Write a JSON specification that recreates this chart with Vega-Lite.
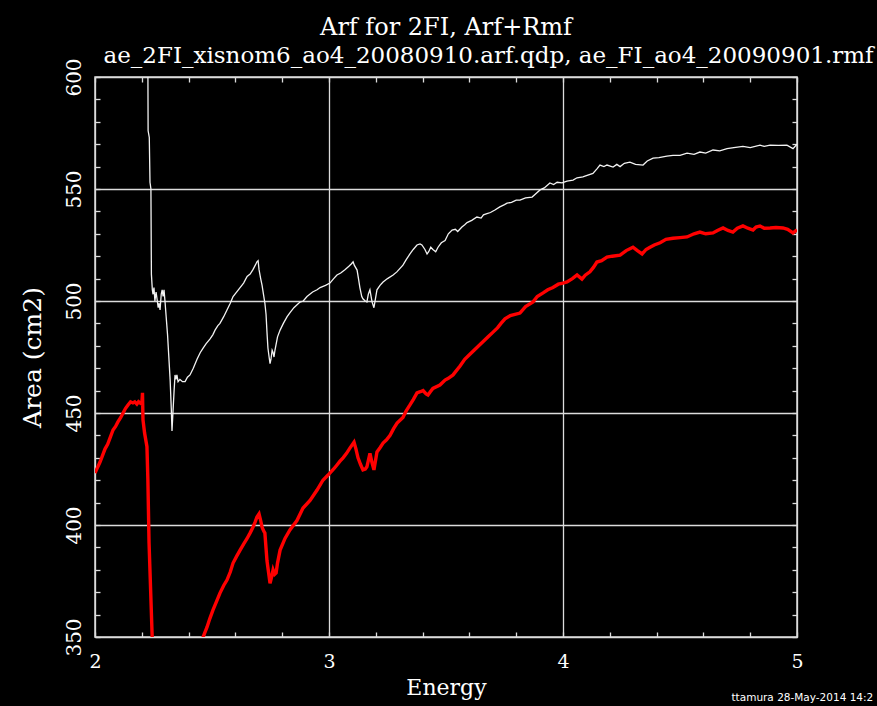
{
  "$schema": "https://vega.github.io/schema/vega-lite/v6.json",
  "width": 702,
  "height": 560,
  "autosize": {"type": "none"},
  "padding": {"left": 95, "top": 77, "right": 80, "bottom": 69},
  "background": "black",
  "config": {
    "view": {"stroke": "#dcdcdc", "strokeWidth": 1.5, "fill": "black"}
  },
  "title": {
    "text": "Arf for 2FI, Arf+Rmf",
    "color": "white",
    "font": "DejaVu Serif",
    "fontSize": 24,
    "fontWeight": "normal",
    "anchor": "middle",
    "offset": 4
  },
  "datasets": {
    "arf": [
      {"e": 2.0, "area": 640}, {"e": 2.1, "area": 650}, {"e": 2.2, "area": 660}, {"e": 2.224, "area": 662},
      {"e": 2.227, "area": 576}, {"e": 2.232, "area": 573}, {"e": 2.235, "area": 553}, {"e": 2.239, "area": 550},
      {"e": 2.241, "area": 512}, {"e": 2.245, "area": 505}, {"e": 2.248, "area": 503}, {"e": 2.252, "area": 506},
      {"e": 2.256, "area": 500}, {"e": 2.261, "area": 504}, {"e": 2.265, "area": 501}, {"e": 2.27, "area": 497},
      {"e": 2.274, "area": 499}, {"e": 2.278, "area": 496}, {"e": 2.283, "area": 503}, {"e": 2.287, "area": 505},
      {"e": 2.291, "area": 502}, {"e": 2.295, "area": 505}, {"e": 2.299, "area": 500}, {"e": 2.31, "area": 485},
      {"e": 2.321, "area": 465}, {"e": 2.326, "area": 452}, {"e": 2.329, "area": 442}, {"e": 2.333, "area": 450},
      {"e": 2.338, "area": 460}, {"e": 2.342, "area": 467}, {"e": 2.346, "area": 465}, {"e": 2.35, "area": 467},
      {"e": 2.355, "area": 464}, {"e": 2.363, "area": 465}, {"e": 2.374, "area": 464}, {"e": 2.385, "area": 464},
      {"e": 2.395, "area": 466}, {"e": 2.406, "area": 467}, {"e": 2.42, "area": 470}, {"e": 2.436, "area": 474},
      {"e": 2.45, "area": 477}, {"e": 2.462, "area": 479}, {"e": 2.475, "area": 481}, {"e": 2.491, "area": 483},
      {"e": 2.504, "area": 485}, {"e": 2.513, "area": 487}, {"e": 2.525, "area": 489}, {"e": 2.534, "area": 490},
      {"e": 2.55, "area": 493}, {"e": 2.564, "area": 496}, {"e": 2.578, "area": 499}, {"e": 2.59, "area": 502},
      {"e": 2.605, "area": 504}, {"e": 2.62, "area": 506}, {"e": 2.635, "area": 508}, {"e": 2.65, "area": 511},
      {"e": 2.663, "area": 512}, {"e": 2.675, "area": 514}, {"e": 2.685, "area": 516}, {"e": 2.692, "area": 517.5},
      {"e": 2.697, "area": 518}, {"e": 2.701, "area": 514}, {"e": 2.708, "area": 510}, {"e": 2.714, "area": 507},
      {"e": 2.72, "area": 503}, {"e": 2.726, "area": 499}, {"e": 2.731, "area": 494}, {"e": 2.735, "area": 486},
      {"e": 2.739, "area": 479}, {"e": 2.744, "area": 475}, {"e": 2.748, "area": 472}, {"e": 2.752, "area": 474},
      {"e": 2.757, "area": 478}, {"e": 2.761, "area": 477}, {"e": 2.765, "area": 475}, {"e": 2.769, "area": 478},
      {"e": 2.78, "area": 484}, {"e": 2.791, "area": 487}, {"e": 2.805, "area": 490}, {"e": 2.821, "area": 493},
      {"e": 2.835, "area": 495}, {"e": 2.85, "area": 497}, {"e": 2.876, "area": 499.5}, {"e": 2.89, "area": 500},
      {"e": 2.906, "area": 502}, {"e": 2.93, "area": 504}, {"e": 2.949, "area": 505}, {"e": 2.962, "area": 506},
      {"e": 2.985, "area": 507}, {"e": 3.004, "area": 508}, {"e": 3.02, "area": 510}, {"e": 3.034, "area": 511.6},
      {"e": 3.05, "area": 512.5}, {"e": 3.068, "area": 514}, {"e": 3.085, "area": 515.5}, {"e": 3.095, "area": 516.5},
      {"e": 3.103, "area": 517.5}, {"e": 3.108, "area": 516}, {"e": 3.12, "area": 513.8}, {"e": 3.126, "area": 510},
      {"e": 3.132, "area": 506}, {"e": 3.14, "area": 502}, {"e": 3.145, "area": 501}, {"e": 3.155, "area": 500},
      {"e": 3.162, "area": 499.6}, {"e": 3.168, "area": 503}, {"e": 3.175, "area": 505}, {"e": 3.18, "area": 502},
      {"e": 3.184, "area": 499.6}, {"e": 3.192, "area": 497}, {"e": 3.2, "area": 502}, {"e": 3.205, "area": 505},
      {"e": 3.218, "area": 507}, {"e": 3.231, "area": 508.5}, {"e": 3.25, "area": 510}, {"e": 3.274, "area": 511.6},
      {"e": 3.29, "area": 513}, {"e": 3.316, "area": 516}, {"e": 3.33, "area": 518.5}, {"e": 3.346, "area": 521},
      {"e": 3.36, "area": 523}, {"e": 3.376, "area": 525}, {"e": 3.389, "area": 525.5}, {"e": 3.397, "area": 525},
      {"e": 3.41, "area": 523}, {"e": 3.419, "area": 521}, {"e": 3.426, "area": 522}, {"e": 3.435, "area": 524},
      {"e": 3.444, "area": 523}, {"e": 3.456, "area": 522}, {"e": 3.466, "area": 524}, {"e": 3.48, "area": 526},
      {"e": 3.496, "area": 527}, {"e": 3.51, "area": 530}, {"e": 3.526, "area": 531.7}, {"e": 3.54, "area": 532},
      {"e": 3.55, "area": 531}, {"e": 3.568, "area": 533}, {"e": 3.58, "area": 534}, {"e": 3.59, "area": 535},
      {"e": 3.61, "area": 536}, {"e": 3.632, "area": 537.5}, {"e": 3.65, "area": 537}, {"e": 3.66, "area": 538.5},
      {"e": 3.675, "area": 539}, {"e": 3.69, "area": 539.5}, {"e": 3.709, "area": 540.6}, {"e": 3.73, "area": 542},
      {"e": 3.75, "area": 543}, {"e": 3.761, "area": 543.7}, {"e": 3.78, "area": 544}, {"e": 3.8, "area": 545},
      {"e": 3.816, "area": 545}, {"e": 3.84, "area": 546}, {"e": 3.868, "area": 546.4}, {"e": 3.885, "area": 548},
      {"e": 3.902, "area": 549.6}, {"e": 3.92, "area": 550.5}, {"e": 3.944, "area": 552.7}, {"e": 3.96, "area": 552},
      {"e": 3.975, "area": 553}, {"e": 3.996, "area": 552.7}, {"e": 4.017, "area": 553.5}, {"e": 4.043, "area": 554},
      {"e": 4.06, "area": 555}, {"e": 4.085, "area": 555.4}, {"e": 4.1, "area": 556}, {"e": 4.128, "area": 557},
      {"e": 4.145, "area": 559}, {"e": 4.158, "area": 560.7}, {"e": 4.175, "area": 560}, {"e": 4.188, "area": 560.7},
      {"e": 4.214, "area": 559.8}, {"e": 4.23, "area": 561}, {"e": 4.244, "area": 560}, {"e": 4.262, "area": 561.5},
      {"e": 4.286, "area": 562}, {"e": 4.31, "area": 561}, {"e": 4.342, "area": 560.7}, {"e": 4.36, "area": 562.5},
      {"e": 4.385, "area": 563.8}, {"e": 4.41, "area": 564}, {"e": 4.444, "area": 564.7}, {"e": 4.47, "area": 565},
      {"e": 4.5, "area": 565}, {"e": 4.53, "area": 566}, {"e": 4.56, "area": 565.5}, {"e": 4.585, "area": 566.5},
      {"e": 4.61, "area": 566}, {"e": 4.641, "area": 567.4}, {"e": 4.67, "area": 567}, {"e": 4.701, "area": 568},
      {"e": 4.73, "area": 568.5}, {"e": 4.769, "area": 569}, {"e": 4.8, "area": 568.5}, {"e": 4.842, "area": 569.6},
      {"e": 4.86, "area": 569}, {"e": 4.885, "area": 569.6}, {"e": 4.92, "area": 569.5}, {"e": 4.957, "area": 569.6},
      {"e": 4.983, "area": 568}, {"e": 5.0, "area": 570}
    ],
    "arfrmf": [
      {"e": 2.0, "area": 423.2}, {"e": 2.01, "area": 425.5}, {"e": 2.021, "area": 428}, {"e": 2.032, "area": 431},
      {"e": 2.043, "area": 434}, {"e": 2.054, "area": 436}, {"e": 2.064, "area": 438.8}, {"e": 2.077, "area": 442.4},
      {"e": 2.088, "area": 444}, {"e": 2.098, "area": 446}, {"e": 2.11, "area": 448}, {"e": 2.12, "area": 450},
      {"e": 2.13, "area": 452}, {"e": 2.141, "area": 453.6}, {"e": 2.152, "area": 455}, {"e": 2.162, "area": 454.5},
      {"e": 2.17, "area": 455}, {"e": 2.179, "area": 454}, {"e": 2.186, "area": 455}, {"e": 2.192, "area": 454.5},
      {"e": 2.2, "area": 454}, {"e": 2.203, "area": 459}, {"e": 2.205, "area": 447}, {"e": 2.212, "area": 441},
      {"e": 2.222, "area": 435}, {"e": 2.226, "area": 420}, {"e": 2.231, "area": 392}, {"e": 2.238, "area": 370},
      {"e": 2.246, "area": 345}, {"e": 2.26, "area": 325}, {"e": 2.3, "area": 315}, {"e": 2.35, "area": 315},
      {"e": 2.4, "area": 325}, {"e": 2.44, "area": 340}, {"e": 2.462, "area": 350}, {"e": 2.479, "area": 354.5},
      {"e": 2.49, "area": 358}, {"e": 2.504, "area": 362}, {"e": 2.52, "area": 366}, {"e": 2.534, "area": 369.6},
      {"e": 2.55, "area": 373}, {"e": 2.564, "area": 375.4}, {"e": 2.578, "area": 379}, {"e": 2.59, "area": 383},
      {"e": 2.605, "area": 386}, {"e": 2.62, "area": 388.8}, {"e": 2.635, "area": 391.5}, {"e": 2.65, "area": 394},
      {"e": 2.663, "area": 396.5}, {"e": 2.675, "area": 399}, {"e": 2.685, "area": 401.5}, {"e": 2.692, "area": 403.6},
      {"e": 2.701, "area": 405}, {"e": 2.708, "area": 402}, {"e": 2.714, "area": 399}, {"e": 2.72, "area": 397.5},
      {"e": 2.726, "area": 396.4}, {"e": 2.735, "area": 384}, {"e": 2.748, "area": 374}, {"e": 2.755, "area": 377},
      {"e": 2.761, "area": 380}, {"e": 2.768, "area": 378}, {"e": 2.774, "area": 378.6}, {"e": 2.78, "area": 383},
      {"e": 2.791, "area": 388.8}, {"e": 2.812, "area": 394}, {"e": 2.833, "area": 397.8}, {"e": 2.863, "area": 402},
      {"e": 2.889, "area": 407.6}, {"e": 2.919, "area": 411}, {"e": 2.949, "area": 415.6}, {"e": 2.974, "area": 420},
      {"e": 2.996, "area": 422.3}, {"e": 3.02, "area": 425}, {"e": 3.034, "area": 426.8}, {"e": 3.047, "area": 428.5},
      {"e": 3.06, "area": 430}, {"e": 3.075, "area": 432}, {"e": 3.09, "area": 434.4}, {"e": 3.107, "area": 437},
      {"e": 3.115, "area": 434}, {"e": 3.124, "area": 430}, {"e": 3.135, "area": 427}, {"e": 3.145, "area": 424.6},
      {"e": 3.155, "area": 425}, {"e": 3.162, "area": 426}, {"e": 3.175, "area": 432}, {"e": 3.184, "area": 427.7},
      {"e": 3.192, "area": 424.6}, {"e": 3.205, "area": 432.6}, {"e": 3.218, "area": 434.5}, {"e": 3.231, "area": 436.6},
      {"e": 3.246, "area": 438}, {"e": 3.261, "area": 440}, {"e": 3.276, "area": 443}, {"e": 3.291, "area": 445.5},
      {"e": 3.316, "area": 448}, {"e": 3.33, "area": 451}, {"e": 3.346, "area": 453.6}, {"e": 3.36, "area": 456},
      {"e": 3.376, "area": 459}, {"e": 3.39, "area": 459.5}, {"e": 3.402, "area": 460}, {"e": 3.415, "area": 458.5},
      {"e": 3.423, "area": 458}, {"e": 3.433, "area": 459.5}, {"e": 3.444, "area": 461}, {"e": 3.474, "area": 462.5},
      {"e": 3.496, "area": 464.7}, {"e": 3.51, "area": 465.5}, {"e": 3.53, "area": 467}, {"e": 3.56, "area": 471},
      {"e": 3.58, "area": 474}, {"e": 3.6, "area": 476}, {"e": 3.62, "area": 478}, {"e": 3.64, "area": 480},
      {"e": 3.66, "area": 482}, {"e": 3.68, "area": 484}, {"e": 3.7, "area": 486}, {"e": 3.72, "area": 488},
      {"e": 3.735, "area": 490}, {"e": 3.752, "area": 492}, {"e": 3.775, "area": 493.5}, {"e": 3.816, "area": 494.6},
      {"e": 3.84, "area": 497.5}, {"e": 3.872, "area": 499.6}, {"e": 3.89, "area": 502}, {"e": 3.915, "area": 503.6},
      {"e": 3.935, "area": 505}, {"e": 3.957, "area": 506}, {"e": 3.98, "area": 507.5}, {"e": 4.0, "area": 508},
      {"e": 4.017, "area": 508.5}, {"e": 4.04, "area": 510}, {"e": 4.06, "area": 511.6}, {"e": 4.081, "area": 509.8},
      {"e": 4.095, "area": 511.5}, {"e": 4.115, "area": 513}, {"e": 4.13, "area": 515}, {"e": 4.145, "area": 517.4},
      {"e": 4.165, "area": 518}, {"e": 4.188, "area": 519.6}, {"e": 4.21, "area": 520}, {"e": 4.244, "area": 520.5},
      {"e": 4.27, "area": 522.5}, {"e": 4.299, "area": 524}, {"e": 4.318, "area": 522.5}, {"e": 4.338, "area": 521},
      {"e": 4.355, "area": 523}, {"e": 4.372, "area": 524}, {"e": 4.39, "area": 525}, {"e": 4.415, "area": 526},
      {"e": 4.44, "area": 527.5}, {"e": 4.47, "area": 528}, {"e": 4.5, "area": 528.3}, {"e": 4.53, "area": 528.6},
      {"e": 4.56, "area": 530}, {"e": 4.585, "area": 530.8}, {"e": 4.61, "area": 530}, {"e": 4.641, "area": 530.4},
      {"e": 4.66, "area": 531.5}, {"e": 4.684, "area": 532.6}, {"e": 4.705, "area": 531.5}, {"e": 4.726, "area": 530.8},
      {"e": 4.745, "area": 532.5}, {"e": 4.769, "area": 533.5}, {"e": 4.79, "area": 532.5}, {"e": 4.812, "area": 531.7},
      {"e": 4.825, "area": 533}, {"e": 4.842, "area": 533.5}, {"e": 4.86, "area": 532.5}, {"e": 4.885, "area": 532.6},
      {"e": 4.91, "area": 532.8}, {"e": 4.94, "area": 532.6}, {"e": 4.96, "area": 532}, {"e": 4.983, "area": 530.4},
      {"e": 5.0, "area": 531.7}
    ]
  },
  "layer": [
    {
      "data": {"name": "arf"},
      "mark": {"type": "line", "color": "#f2f2f2", "strokeWidth": 1.3, "clip": true},
      "encoding": {
        "x": {
          "field": "e", "type": "quantitative",
          "scale": {"domain": [2, 5], "nice": false, "zero": false},
          "axis": {
            "orient": "bottom",
            "values": [2, 2.2, 2.4, 2.6, 2.8, 3, 3.2, 3.4, 3.6, 3.8, 4, 4.2, 4.4, 4.6, 4.8, 5],
            "labelExpr": "abs(datum.value - round(datum.value)) < 0.001 ? format(datum.value, 'd') : ''",
            "labelOverlap": false, "labelFlush": false,
            "labelColor": "white", "labelFont": "DejaVu Serif", "labelFontSize": 19,
            "labelPadding": 20,
            "domain": false,
            "ticks": true, "tickSize": -5, "tickColor": "#dcdcdc", "tickWidth": 1.3,
            "grid": true, "gridWidth": 1.3,
            "gridColor": {"condition": {"test": "abs(datum.value - round(datum.value)) < 0.001", "value": "#dcdcdc"}, "value": "transparent"},
            "title": "Energy", "titleColor": "white", "titleFont": "DejaVu Serif",
            "titleFontSize": 22, "titleFontWeight": "normal", "titlePadding": 6
          }
        },
        "y": {
          "field": "area", "type": "quantitative",
          "scale": {"domain": [350, 600], "nice": false, "zero": false},
          "axis": {
            "orient": "left",
            "values": [350, 360, 370, 380, 390, 400, 410, 420, 430, 440, 450, 460, 470, 480, 490, 500, 510, 520, 530, 540, 550, 560, 570, 580, 590, 600],
            "labelExpr": "datum.value % 50 === 0 ? format(datum.value, 'd') : ''",
            "labelOverlap": false, "labelFlush": false,
            "labelAngle": -90, "labelAlign": "center", "labelBaseline": "alphabetic",
            "labelColor": "white", "labelFont": "DejaVu Serif", "labelFontSize": 20,
            "labelPadding": 20,
            "domain": false,
            "ticks": true, "tickSize": -5, "tickColor": "#dcdcdc", "tickWidth": 1.3,
            "grid": true, "gridWidth": 1.3,
            "gridColor": {"condition": {"test": "datum.value % 50 === 0", "value": "#dcdcdc"}, "value": "transparent"},
            "title": "Area (cm2)", "titleColor": "white", "titleFont": "DejaVu Serif",
            "titleFontSize": 25, "titleFontWeight": "normal",
            "titleAngle": -90, "titleAlign": "center", "titleBaseline": "alphabetic",
            "titleX": -55, "titleY": 280
          }
        }
      }
    },
    {
      "data": {"name": "arfrmf"},
      "mark": {"type": "line", "color": "#ff0000", "strokeWidth": 3.4, "clip": true},
      "encoding": {
        "x": {
          "field": "e", "type": "quantitative",
          "axis": {
            "orient": "top",
            "values": [2, 2.2, 2.4, 2.6, 2.8, 3, 3.2, 3.4, 3.6, 3.8, 4, 4.2, 4.4, 4.6, 4.8, 5],
            "labels": false, "domain": false, "grid": false,
            "ticks": true, "tickSize": -5, "tickColor": "#dcdcdc", "tickWidth": 1.3,
            "title": "ae_2FI_xisnom6_ao4_20080910.arf.qdp, ae_FI_ao4_20090901.rmf",
            "titleColor": "white", "titleFont": "DejaVu Serif", "titleFontSize": 23,
            "titleFontWeight": "normal",
            "titleAngle": 0, "titleAlign": "center", "titleBaseline": "alphabetic",
            "titleX": 393, "titleY": -15
          }
        },
        "y": {
          "field": "area", "type": "quantitative",
          "axis": {
            "orient": "right",
            "values": [350, 360, 370, 380, 390, 400, 410, 420, 430, 440, 450, 460, 470, 480, 490, 500, 510, 520, 530, 540, 550, 560, 570, 580, 590, 600],
            "labels": false, "domain": false, "grid": false,
            "ticks": true, "tickSize": -5, "tickColor": "#dcdcdc", "tickWidth": 1.3,
            "title": "ttamura 28-May-2014 14:2",
            "titleAngle": 0, "titleAlign": "left", "titleBaseline": "middle",
            "titleX": -66, "titleY": 620,
            "titleColor": "white", "titleFont": "DejaVu Sans", "titleFontSize": 10.5,
            "titleFontWeight": "normal"
          }
        }
      }
    }
  ],
  "resolve": {"axis": {"x": "independent", "y": "independent"}}
}
